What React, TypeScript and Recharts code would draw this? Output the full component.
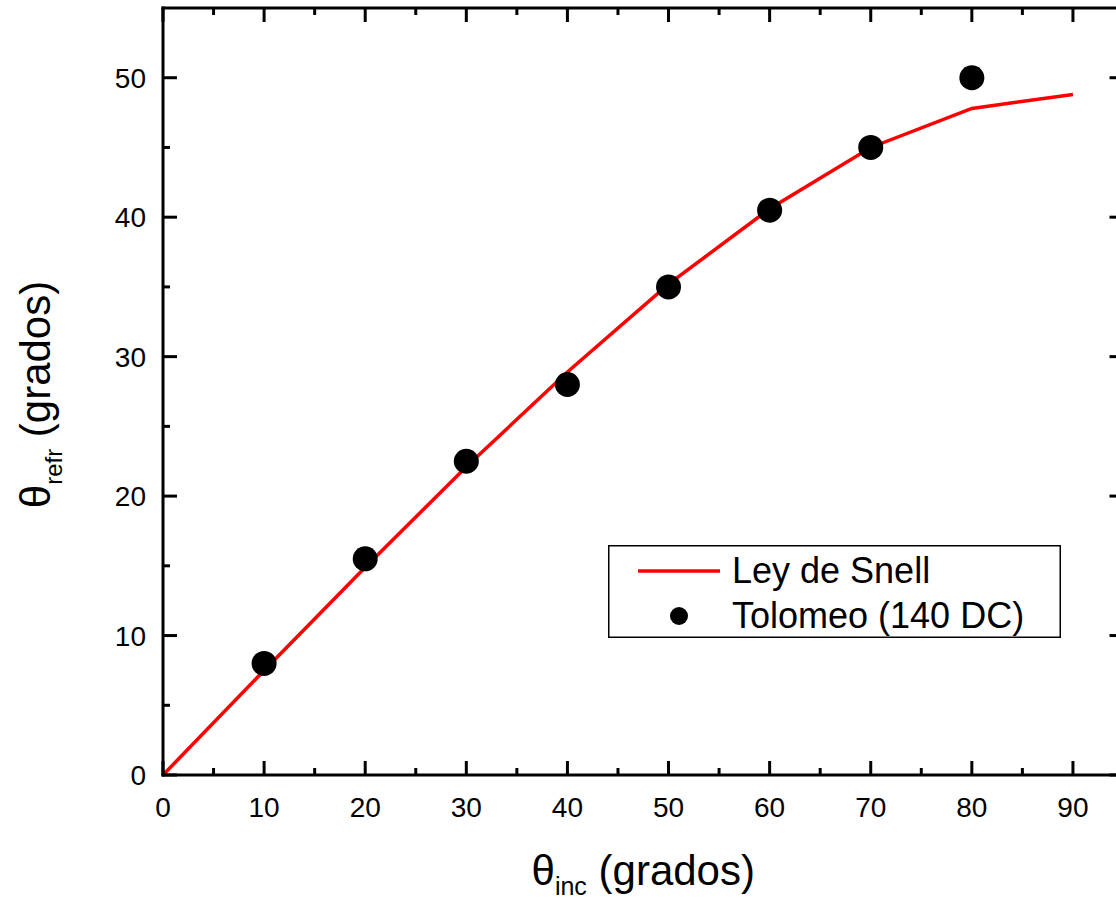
import { ComposedChart, Line, Scatter, XAxis, YAxis, Legend } from 'recharts';

const FONT = '"Liberation Sans", Arial, sans-serif';

// Ley de Snell (n = 1.33)
const snellInc = [0, 10, 20, 30, 40, 50, 60, 70, 80, 90];
const snellRefr = [0, 7.5, 14.9, 22.1, 28.9, 35.2, 40.6, 45.0, 47.8, 48.8];

// Tolomeo (140 DC)
const tolomeoInc = [10, 20, 30, 40, 50, 60, 70, 80];
const tolomeoRefr = [8, 15.5, 22.5, 28, 35, 40.5, 45, 50];

const xTicks = [0, 5, 10, 15, 20, 25, 30, 35, 40, 45, 50, 55, 60, 65, 70, 75, 80, 85, 90];
const yTicks = [0, 5, 10, 15, 20, 25, 30, 35, 40, 45, 50];

const snellData = snellInc.map((x, i) => ({ x, y: snellRefr[i] }));
const tolomeoData = tolomeoInc.map((x, i) => ({ x, y: tolomeoRefr[i] }));

const tickLen = (v: number) => (v % 10 === 0 ? 14 : 7);

const BottomTick = (props: any) => {
  const { x, y, payload } = props;
  const v = payload.value;
  return (
    <g>
      <line x1={x} y1={y} x2={x} y2={y - tickLen(v)} stroke="#000" strokeWidth={3} />
      {v % 10 === 0 && (
        <text x={x} y={y + 42} textAnchor="middle" fontSize={28} fill="#000" fontFamily={FONT}>
          {v}
        </text>
      )}
    </g>
  );
};

const TopTick = (props: any) => {
  const { x, y, payload } = props;
  return <line x1={x} y1={y} x2={x} y2={y + tickLen(payload.value)} stroke="#000" strokeWidth={3} />;
};

const LeftTick = (props: any) => {
  const { x, y, payload } = props;
  const v = payload.value;
  return (
    <g>
      <line x1={x} y1={y} x2={x + tickLen(v)} y2={y} stroke="#000" strokeWidth={3} />
      {v % 10 === 0 && (
        <text x={x - 17} y={y + 10} textAnchor="end" fontSize={28} fill="#000" fontFamily={FONT}>
          {v}
        </text>
      )}
    </g>
  );
};

const RightTick = (props: any) => {
  const { x, y, payload } = props;
  return <line x1={x} y1={y} x2={x - tickLen(payload.value)} y2={y} stroke="#000" strokeWidth={3} />;
};

const XTitle = (props: any) => {
  const vb = props.viewBox || { x: 163, y: 775, width: 960, height: 124 };
  const cx = vb.x + vb.width / 2;
  return (
    <text x={cx} y={vb.y + 110} textAnchor="middle" fontSize={42} fill="#000" fontFamily={FONT}>
      <tspan>θ</tspan>
      <tspan fontSize={25} dy={10}>inc</tspan>
      <tspan dy={-10}> (grados)</tspan>
    </text>
  );
};

const YTitle = (props: any) => {
  const vb = props.viewBox || { x: 0, y: 8, width: 163, height: 767 };
  const cx = 50;
  const cy = vb.y + vb.height / 2 + 3;
  return (
    <text
      x={cx}
      y={cy}
      transform={`rotate(-90, ${cx}, ${cy})`}
      textAnchor="middle"
      fontSize={42}
      fill="#000"
      fontFamily={FONT}
    >
      <tspan>θ</tspan>
      <tspan fontSize={24} dy={12}>refr</tspan>
      <tspan dy={-12}> (grados)</tspan>
    </text>
  );
};

const renderLegend = () => (
  <svg width={453} height={93} style={{ display: 'block' }}>
    <rect x={0.75} y={0.75} width={451.5} height={91.5} fill="#fff" stroke="#000" strokeWidth={1.5} />
    <line x1={30} y1={26} x2={112} y2={26} stroke="#ff0000" strokeWidth={3.5} />
    <text x={124} y={38} fontSize={36} fill="#000" fontFamily={FONT}>Ley de Snell</text>
    <circle cx={71} cy={71} r={9} fill="#000" />
    <text x={124} y={83} fontSize={36} fill="#000" fontFamily={FONT}>Tolomeo (140 DC)</text>
  </svg>
);

const axisStyle = { stroke: '#000', strokeWidth: 3, strokeLinecap: 'square' as const };

export default function App() {
  return (
    <div
      style={{
        position: 'absolute',
        left: 0,
        top: 0,
        width: 1116,
        height: 899,
        overflow: 'hidden',
        background: '#fff',
      }}
    >
      <ComposedChart width={1140} height={899} margin={{ top: 7, right: 15.5, bottom: 0, left: 0 }}>
        <XAxis
          dataKey="x"
          type="number"
          domain={[0, 95]}
          ticks={xTicks}
          interval={0}
          height={124}
          tickSize={0}
          tickMargin={0}
          tick={<BottomTick />}
          axisLine={axisStyle}
          tickLine={false}
          label={<XTitle />}
        />
        <XAxis
          xAxisId="top"
          orientation="top"
          dataKey="x"
          type="number"
          domain={[0, 95]}
          ticks={xTicks}
          interval={0}
          height={1}
          tickSize={0}
          tickMargin={0}
          tick={<TopTick />}
          axisLine={axisStyle}
          tickLine={false}
        />
        <YAxis
          type="number"
          domain={[0, 55]}
          ticks={yTicks}
          interval={0}
          width={163}
          tickSize={0}
          tickMargin={0}
          tick={<LeftTick />}
          axisLine={axisStyle}
          tickLine={false}
          label={<YTitle />}
        />
        <YAxis
          yAxisId="right"
          orientation="right"
          type="number"
          domain={[0, 55]}
          ticks={yTicks}
          interval={0}
          width={1}
          tickSize={0}
          tickMargin={0}
          tick={<RightTick />}
          axisLine={axisStyle}
          tickLine={false}
        />
        <Line
          data={snellData}
          dataKey="y"
          name="Ley de Snell"
          type="linear"
          stroke="#ff0000"
          strokeWidth={3.5}
          dot={false}
          activeDot={false}
          isAnimationActive={false}
        />
        <Scatter
          xAxisId="top"
          yAxisId="right"
          data={tolomeoData}
          dataKey="y"
          name="Tolomeo (140 DC)"
          fill="#000"
          shape={(p: any) => <circle cx={p.cx} cy={p.cy} r={12.5} fill="#000" />}
          isAnimationActive={false}
        />
        <Legend
          layout="horizontal"
          verticalAlign="middle"
          align="center"
          wrapperStyle={{ left: 608, top: 545, width: 453, height: 93 }}
          content={renderLegend}
        />
      </ComposedChart>
    </div>
  );
}
